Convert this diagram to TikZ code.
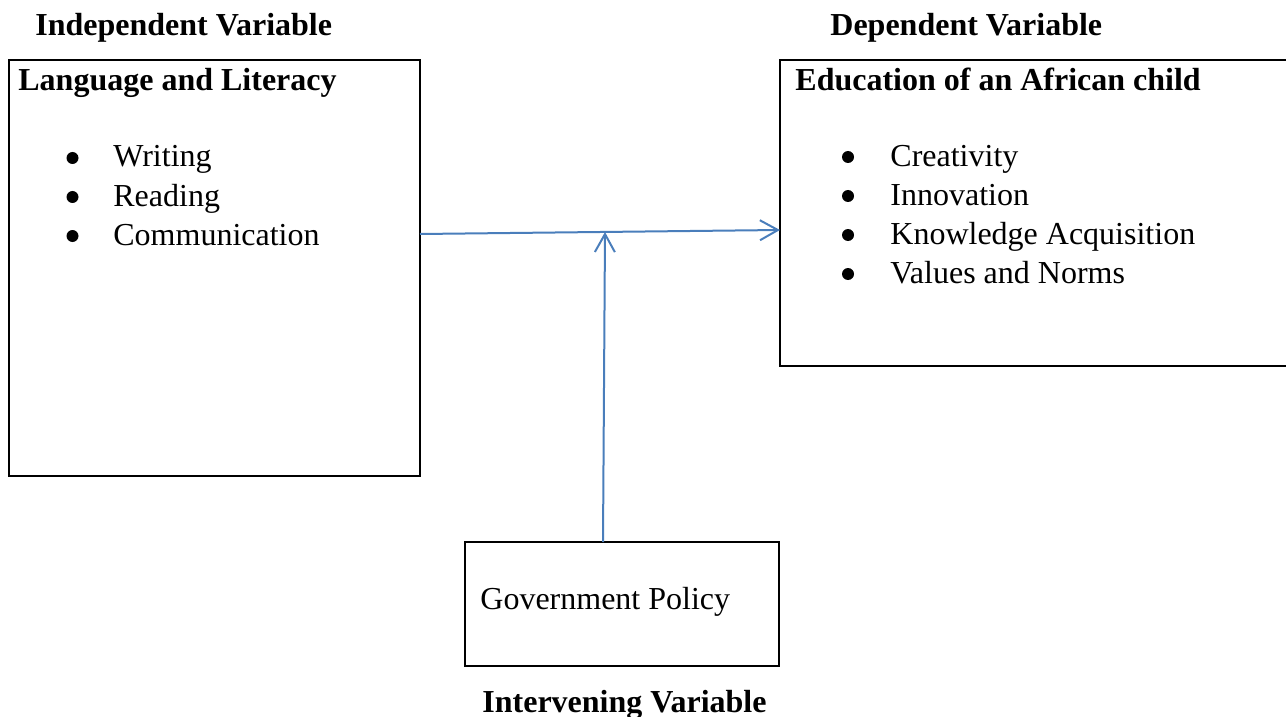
\documentclass[tikz,border=0pt]{standalone}
\usepackage{fontspec}
\setmainfont{Liberation Serif}
\usepackage{xcolor}
\usetikzlibrary{arrows.meta,positioning}
\definecolor{flowblue}{RGB}{74,126,187}

\begin{document}
\begin{tikzpicture}[x=0.5pt, y=-0.5pt,
            box/.style={draw, line width=1pt, inner sep=0pt, outer sep=0pt},
            title/.style={font=\fontsize{16}{19}\selectfont\bfseries, anchor=base west, inner sep=0pt},
            item/.style={font=\fontsize{16}{19}\selectfont, anchor=base west, inner sep=0pt},
            dot/.style={circle, fill, inner sep=0pt, minimum size=6pt},
            flow/.style={draw=flowblue, line width=1pt, -{Straight Barb[length=9pt,width=10pt]}}
        ]
            \useasboundingbox (0,0) rectangle (1286,717);

            \node[title] (indep) at (35,36) {Independent Variable};
            \node[title] (dep) at (830,36) {Dependent Variable};

            \node[box, minimum width=205.5pt, minimum height=208pt] (lit) at (214.5,268) {};
            \node[box, minimum width=256pt, minimum height=153pt] (edu) at (1036,213) {};
            \node[box, minimum width=157pt, minimum height=62pt] (gov) at (622,604) {};

            \node[title] (lithead) at (18,91) {Language and Literacy};
            \foreach \txt [count=\i] in {Writing, Reading, Communication} {
                \node[dot] (litdot\i) at (72.5,{119+39*\i}) {};
                \node[item] (lititem\i) at (113,{128+39*\i}) {\txt};
            }

            \node[title] (eduhead) at (795,91) {Education of an African child};
            \foreach \txt [count=\i] in {Creativity, Innovation, Knowledge Acquisition, Values and Norms} {
                \node[dot] (edudot\i) at (848,{118+39*\i}) {};
                \node[item] (eduitem\i) at (890,{127.5+39*\i}) {\txt};
            }

            \node[item] (govtext) at (480,609) {Government Policy};
            \node[title] (interv) at (482,712) {Intervening Variable};

            \coordinate (join) at (605,232);
            \draw[flow] (lit.east |- 0,234) -- (edu.west |- 0,230);
            \draw[flow] (gov.north -| 603,0) -- (join);
        \end{tikzpicture}
\end{document}
